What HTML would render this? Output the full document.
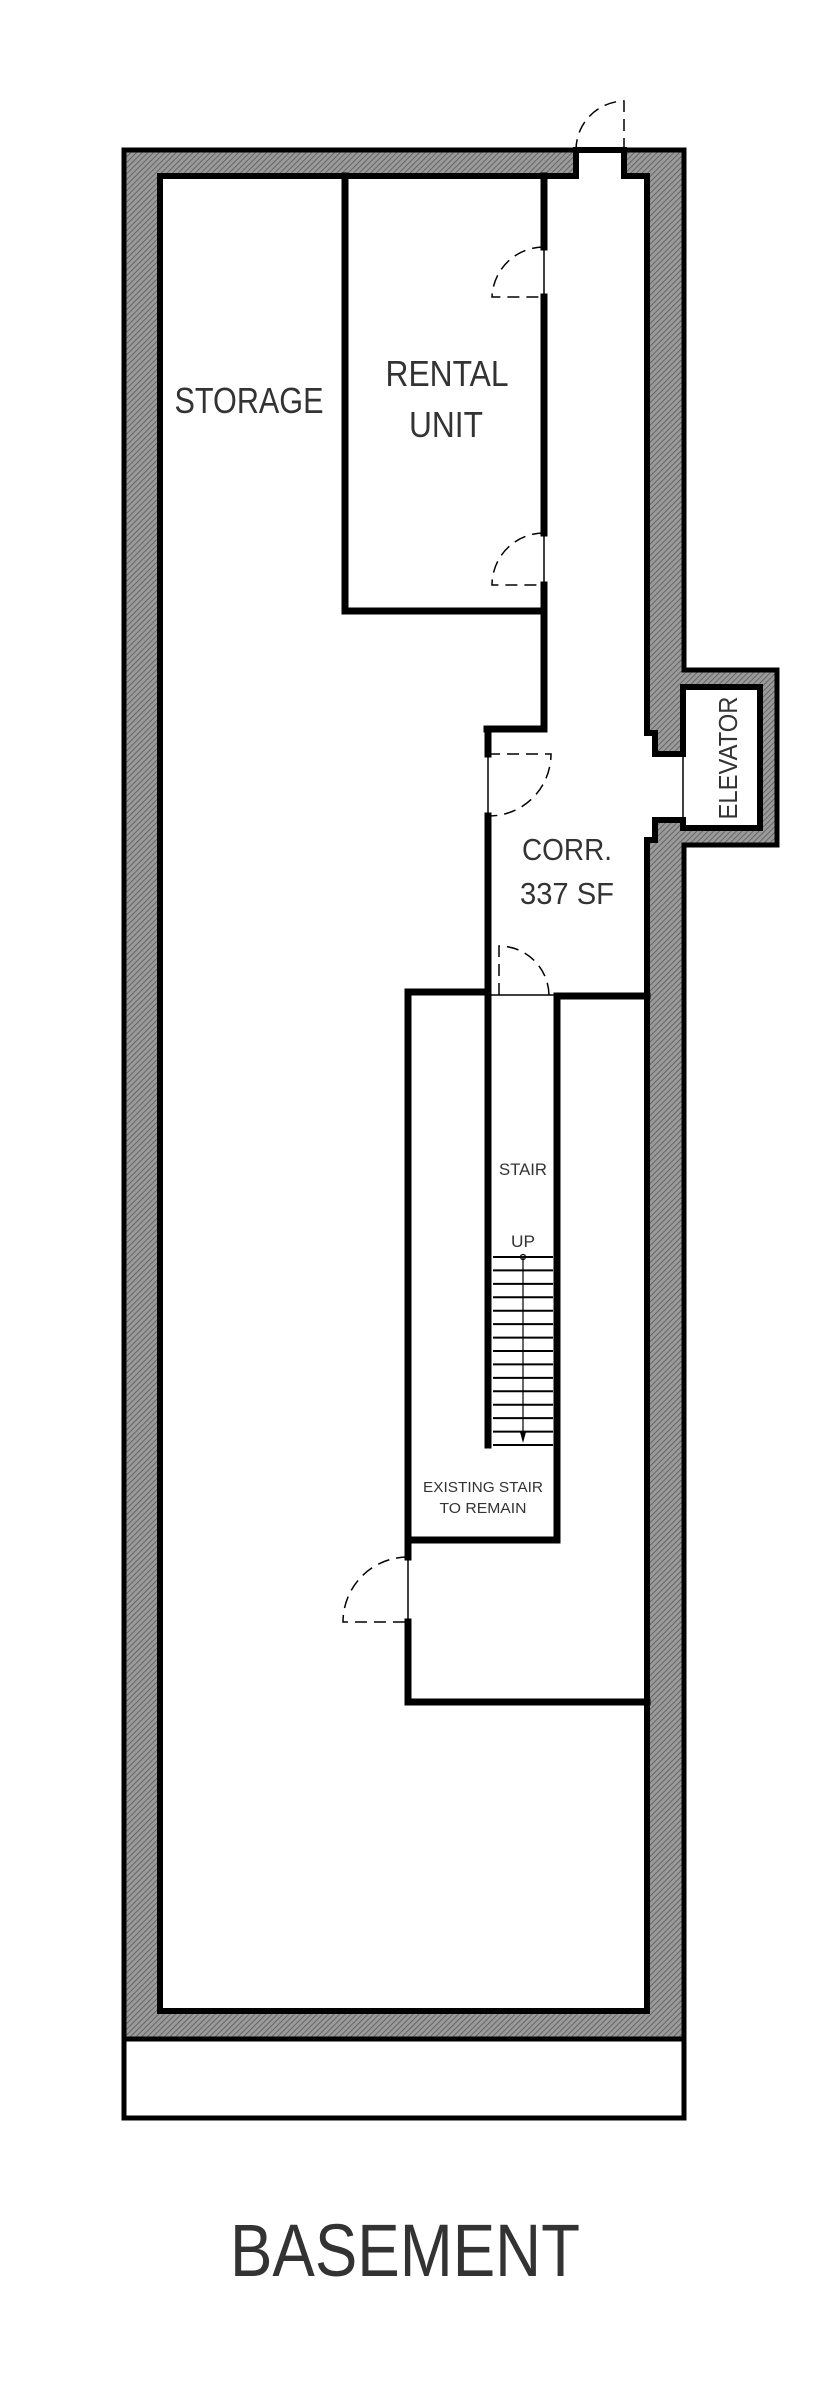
<!DOCTYPE html>
<html><head><meta charset="utf-8"><style>
html,body{margin:0;padding:0;background:#fff;}
svg{display:block;}
text{font-family:"Liberation Sans",sans-serif;fill:#333;}
</style></head><body>
<svg width="820" height="2400" viewBox="0 0 820 2400" xmlns="http://www.w3.org/2000/svg">
<defs>
<pattern id="h" width="4" height="4" patternUnits="userSpaceOnUse" patternTransform="rotate(45)">
<rect width="4" height="4" fill="#9a9a9a"/><line x1="0" y1="0" x2="0" y2="4" stroke="#555" stroke-width="1.5"/>
</pattern>
</defs>
<path d="M124,150 H684 V670 H777 V845 H684 V2039 H124 Z" fill="url(#h)" stroke="#000" stroke-width="5"/>
<path d="M160,176 H576 V150 H624 V176 H647 V733 H655 V754 H683 V687 H760 V828 H683 V820 H655 V840 H647 V2011 H160 Z" fill="#fff" stroke="#000" stroke-width="6" stroke-linejoin="miter"/>
<line x1="683" y1="754" x2="683" y2="820" stroke="#000" stroke-width="1.5"/>
<rect x="124" y="2039" width="560" height="79" fill="#fff" stroke="#000" stroke-width="5"/>
<g stroke="#000" stroke-width="7" fill="none" stroke-linecap="square">
<line x1="345" y1="176" x2="345" y2="611"/>
<line x1="345" y1="611" x2="544" y2="611"/>
<line x1="544" y1="176" x2="544" y2="247"/>
<line x1="544" y1="297" x2="544" y2="533"/>
<line x1="544" y1="585" x2="544" y2="729"/>
<line x1="544" y1="729" x2="487" y2="729"/>
<line x1="488" y1="729" x2="488" y2="754"/>
<line x1="488" y1="816" x2="488" y2="1445"/>
<line x1="408" y1="992" x2="488" y2="992"/>
<line x1="557" y1="996" x2="647" y2="996"/>
<line x1="557" y1="996" x2="557" y2="1540"/>
<line x1="408" y1="992" x2="408" y2="1557"/>
<line x1="408" y1="1622" x2="408" y2="1702"/>
<line x1="408" y1="1540" x2="557" y2="1540"/>
<line x1="408" y1="1702" x2="647" y2="1702"/>
</g>
<g stroke="#000" stroke-width="1.5">
<line x1="544" y1="247" x2="544" y2="297"/>
<line x1="544" y1="533" x2="544" y2="585"/>
<line x1="488" y1="754" x2="488" y2="816"/>
<line x1="488" y1="995" x2="557" y2="995"/>
<line x1="408" y1="1557" x2="408" y2="1622"/>
</g>
<g stroke="#000" stroke-width="1.5" fill="none" stroke-dasharray="12,7">
<path d="M624,150 V101 A49,49 0 0 0 576,150"/>
<path d="M544,247 A52,52 0 0 0 492,297 H544"/>
<path d="M544,533 A52,52 0 0 0 492,585 H544"/>
<path d="M488,754 H551 A62,62 0 0 1 489,816"/>
<path d="M499,995 V946 A50,50 0 0 1 549,995"/>
<path d="M408,1557 A65,65 0 0 0 343,1622 H408"/>
</g>
<g stroke="#000" stroke-width="2">
<line x1="493" y1="1257" x2="553" y2="1257"/><line x1="493" y1="1270.4" x2="553" y2="1270.4"/><line x1="493" y1="1283.9" x2="553" y2="1283.9"/><line x1="493" y1="1297.3" x2="553" y2="1297.3"/><line x1="493" y1="1310.7" x2="553" y2="1310.7"/><line x1="493" y1="1324.1" x2="553" y2="1324.1"/><line x1="493" y1="1337.6" x2="553" y2="1337.6"/><line x1="493" y1="1351" x2="553" y2="1351"/><line x1="493" y1="1364.4" x2="553" y2="1364.4"/><line x1="493" y1="1377.9" x2="553" y2="1377.9"/><line x1="493" y1="1391.3" x2="553" y2="1391.3"/><line x1="493" y1="1404.7" x2="553" y2="1404.7"/><line x1="493" y1="1418.1" x2="553" y2="1418.1"/><line x1="493" y1="1431.6" x2="553" y2="1431.6"/><line x1="493" y1="1445" x2="553" y2="1445"/>
<line x1="523" y1="1257" x2="523" y2="1440" stroke-width="1.2"/>
</g>
<circle cx="523" cy="1257" r="2.5" fill="none" stroke="#000" stroke-width="1.2"/>
<path d="M520,1432 L526,1432 L523,1443 Z" fill="#000"/>
<text x="249" y="413" font-size="36" text-anchor="middle" textLength="149" lengthAdjust="spacingAndGlyphs">STORAGE</text>
<text x="447" y="386" font-size="36" text-anchor="middle" textLength="123" lengthAdjust="spacingAndGlyphs">RENTAL</text>
<text x="446" y="437" font-size="36" text-anchor="middle" textLength="74" lengthAdjust="spacingAndGlyphs">UNIT</text>
<text x="567" y="860" font-size="31" text-anchor="middle" textLength="90" lengthAdjust="spacingAndGlyphs">CORR.</text>
<text x="567" y="904" font-size="31" text-anchor="middle" textLength="94" lengthAdjust="spacingAndGlyphs">337 SF</text>
<text transform="translate(737,758) rotate(-90)" font-size="26" text-anchor="middle" textLength="123" lengthAdjust="spacingAndGlyphs">ELEVATOR</text>
<text x="523" y="1175" font-size="17" text-anchor="middle" textLength="48" lengthAdjust="spacingAndGlyphs">STAIR</text>
<text x="523" y="1247" font-size="17" text-anchor="middle" textLength="24" lengthAdjust="spacingAndGlyphs">UP</text>
<text x="483" y="1492" font-size="15" text-anchor="middle" textLength="120" lengthAdjust="spacingAndGlyphs">EXISTING STAIR</text>
<text x="483" y="1513" font-size="15" text-anchor="middle" textLength="87" lengthAdjust="spacingAndGlyphs">TO REMAIN</text>
<text x="405" y="2276" font-size="74" text-anchor="middle" textLength="350" lengthAdjust="spacingAndGlyphs" fill="#444">BASEMENT</text>
</svg>
</body></html>
